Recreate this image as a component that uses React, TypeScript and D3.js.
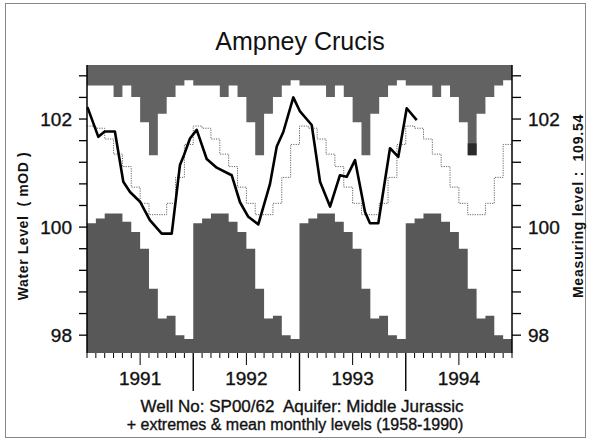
import React from "react";
import * as d3 from "d3";

// Calendar-month statistics (1958-1990), Jan..Dec
const monthlyMax = [102.62, 102.62, 102.62, 102.41, 102.62, 102.41, 101.94, 101.33, 102.1, 102.41, 102.62, 102.72];
const monthlyMin = [100.07, 100.16, 100.25, 100.25, 100.1, 99.91, 99.6, 98.86, 98.31, 98.36, 98.0, 97.93];
const monthlyMean = [101.87, 101.83, 101.63, 101.35, 101.12, 100.74, 100.44, 100.23, 100.23, 100.44, 100.92, 101.53];

// Observed levels: time in months since Jan 1991, level in mOD
const obsTime = [0.05, 1.28, 2.0, 3.15, 4.1, 4.86, 5.99, 7.1, 8.44, 9.57, 10.1, 10.5, 10.88, 11.63, 12.39,
  13.52, 14.65, 16.34, 17.28, 18.22, 19.35, 20.67, 21.43, 22.17, 23.3,
  24.06, 25.38, 26.32, 27.45, 28.57, 29.33, 30.27, 31.4, 31.96, 32.9, 34.22, 35.16, 36.11, 37.24];
const obsLevel = [102.22, 101.67, 101.77, 101.77, 100.84, 100.65, 100.47, 100.13, 99.88, 99.88, 100.6, 101.15, 101.3, 101.64, 101.8,
  101.26, 101.1, 100.96, 100.46, 100.19, 100.05, 100.8, 101.49, 101.76, 102.4,
  102.14, 101.89, 100.84, 100.38, 100.96, 100.93, 101.24, 100.28, 100.07, 100.07, 101.46, 101.3, 102.2, 101.98];

// Highlighted part of a max column (month index since Jan 1991, upper and lower level)
const highlightMonth = [43];
const highlightTop = [101.55];
const highlightBottom = [101.33];

const years = ["1991", "1992", "1993", "1994"];
const yLabelTicks = [98, 100, 102];
const title = "Ampney Crucis";
const yTitle = "Water Level  ( mOD )";
const rightTitle = "Measuring level :  109.54";
const footer1 = "Well No: SP00/62  Aquifer: Middle Jurassic";
const footer2 = "+ extremes & mean monthly levels (1958-1990)";

const NMONTHS = 48;
const FONT = "'Liberation Sans', Arial, Helvetica, sans-serif";

export default function App() {
  const W = 589, H = 442;
  const x = d3.scaleLinear().domain([0, NMONTHS]).range([87, 512]);
  const y = d3.scaleLinear().domain([97.67, 103.0]).range([353, 65]);
  const [x0, x1] = x.range();
  const [yb, yt] = y.range();

  const stepPts = (arr: number[]) =>
    d3.range(NMONTHS + 1).map((i) => ({ t: i, v: arr[Math.min(i, NMONTHS - 1) % 12] }));

  const maxArea = d3.area<{ t: number; v: number }>()
    .curve(d3.curveStepAfter)
    .x((d) => x(d.t))
    .y0(yt)
    .y1((d) => y(d.v))(stepPts(monthlyMax)) as string;
  const minArea = d3.area<{ t: number; v: number }>()
    .curve(d3.curveStepAfter)
    .x((d) => x(d.t))
    .y0(yb)
    .y1((d) => y(d.v))(stepPts(monthlyMin)) as string;
  const meanLine = d3.line<{ t: number; v: number }>()
    .curve(d3.curveStepAfter)
    .x((d) => x(d.t))
    .y((d) => y(d.v))(stepPts(monthlyMean)) as string;
  const obsLine = d3.line<number>()
    .x((_, i) => x(obsTime[i]))
    .y((d) => y(d))(obsLevel) as string;

  const yTicks = d3.range(98, 102.81, 0.4);
  const monthTicks = d3.range(NMONTHS + 1);
  const heavy = { stroke: "#111", strokeWidth: 0.35 };
  const pre = { whiteSpace: "pre" as const };

  return (
    <svg width={W} height={H} style={{ position: "absolute", left: 0, top: 0, background: "#fff" }}
      fontFamily={FONT}>
      <rect x={5.5} y={3.5} width={580} height={434} fill="none" stroke="#888" strokeWidth={1} />
      <text x={300} y={50} textAnchor="middle" fontSize={25} fill="#111">{title}</text>

      <path d={maxArea} fill="#626262" />
      <path d={minArea} fill="#585858" />
      {highlightMonth.map((m, i) => (
        <rect key={"h" + i} x={x(m)} y={y(highlightTop[i])} width={x(m + 1) - x(m)}
          height={y(highlightBottom[i]) - y(highlightTop[i])} fill="#2a2a2a" />
      ))}
      <path d={meanLine} fill="none" stroke="#666" strokeWidth={1} strokeDasharray="1.2 1.2" />
      <path d={obsLine} fill="none" stroke="#000" strokeWidth={2.6} strokeLinejoin="round" />

      {/* axes */}
      <line x1={x0} x2={x0} y1={yt} y2={yb} stroke="#000" strokeWidth={1.5} />
      <line x1={x1} x2={x1} y1={yt} y2={yb} stroke="#000" strokeWidth={1.5} />
      {yTicks.map((v, i) => (
        <g key={"yt" + i}>
          <line x1={x0 - 8} x2={x0} y1={y(v)} y2={y(v)} stroke="#000" strokeWidth={1.3} />
          <line x1={x1} x2={x1 + 9} y1={y(v)} y2={y(v)} stroke="#000" strokeWidth={1.3} />
        </g>
      ))}
      {yLabelTicks.map((v) => (
        <g key={"yl" + v}>
          <text x={72} y={y(v) + 7} textAnchor="end" fontSize={19} fill="#111" {...heavy}>{v}</text>
          <text x={528} y={y(v) + 7} textAnchor="start" fontSize={19} fill="#111" {...heavy}>{v}</text>
        </g>
      ))}
      {monthTicks.map((m) => {
        const isYear = m % 12 === 0 && m > 0 && m < NMONTHS;
        const isMid = m % 12 === 6;
        const len = isYear ? 38 : isMid ? 12 : 5;
        return (
          <line key={"mt" + m} x1={x(m)} x2={x(m)} y1={yb} y2={yb + len} stroke="#000"
            strokeWidth={isYear ? 1.4 : 1} />
        );
      })}
      {years.map((yr, i) => (
        <text key={yr} x={x(i * 12 + 6)} y={385} textAnchor="middle" fontSize={19} fill="#111" {...heavy}>{yr}</text>
      ))}

      <text transform="translate(28,226) rotate(-90)" textAnchor="middle" fontSize={14} fontWeight="bold"
        letterSpacing={0.6} fill="#111" style={pre}>{yTitle}</text>
      <text transform="translate(583,206) rotate(-90)" textAnchor="middle" fontSize={14} fontWeight="bold"
        letterSpacing={0.8} fill="#111" style={pre}>{rightTitle}</text>

      <text x={302} y={412} textAnchor="middle" fontSize={17} fill="#111" {...heavy} style={pre}>{footer1}</text>
      <text x={295} y={430} textAnchor="middle" fontSize={16} fill="#111" {...heavy}>{footer2}</text>
    </svg>
  );
}
